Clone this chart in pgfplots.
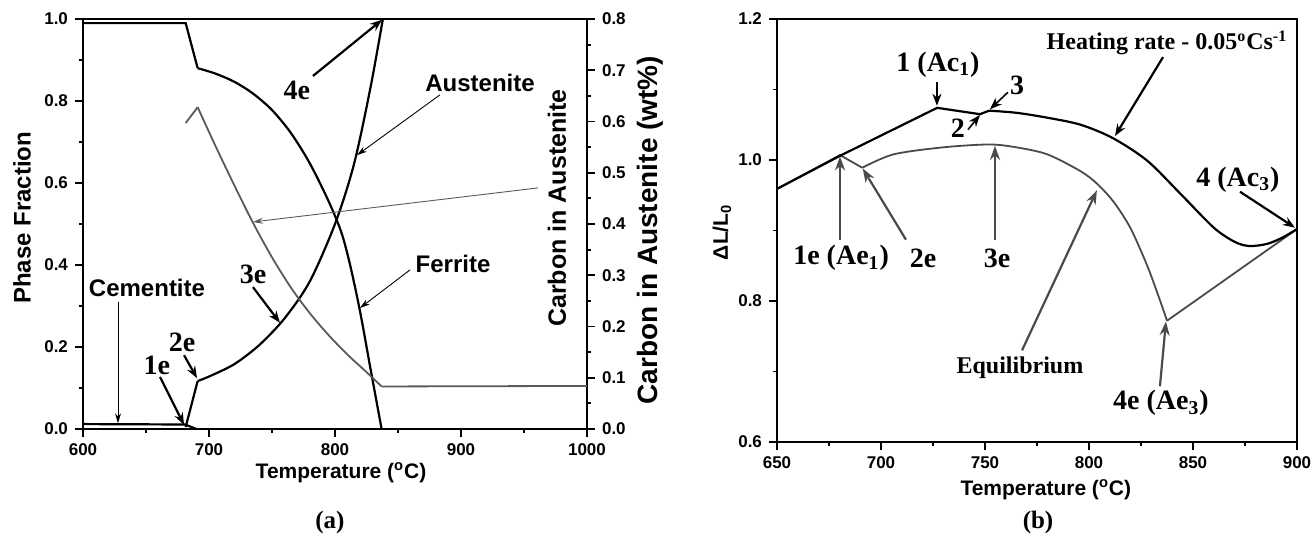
\documentclass[border=0pt]{standalone}
\usepackage{fontspec}
\setmainfont{Liberation Sans}
\newfontfamily\tms{Liberation Serif}
\usepackage{pgfplots}
\pgfplotsset{compat=1.18}
\usetikzlibrary{arrows.meta}
\definecolor{eqgray}{HTML}{4A4A4A}
\definecolor{cgray}{HTML}{5A5A5A}
\pgfplotsset{
  base/.style={scale only axis, clip=false,
    axis line style={line width=1pt,-},
    tick align=outside, major tick length=4pt, minor tick length=2pt,
    every tick/.style={line width=0.9pt, black},
    tick label style={font=\bfseries\fontsize{8.5}{10}\selectfont},
    /pgf/number format/assume math mode=true,
    /pgf/number format/1000 sep={},
    yticklabel style={/pgf/number format/.cd,fixed,fixed zerofill,precision=1},
  },
}
\tikzset{
  sanslab/.style={font=\bfseries\fontsize{12}{14}\selectfont},
  serlab/.style={font=\tms\bfseries\fontsize{14}{16}\selectfont},
  sersmall/.style={font=\tms\bfseries\fontsize{12}{14}\selectfont},
  barrow/.style={line width=1.1pt, -{Stealth[length=6pt,width=4.5pt]}},
  tarrow/.style={line width=0.45pt, -{Stealth[length=5pt,width=3pt]}},
  garrow/.style={eqgray, line width=1.1pt, -{Stealth[length=7pt,width=5pt]}},
  curve/.style={black, line width=1.1pt},
  gcurve/.style={eqgray, line width=0.9pt},
}
\begin{document}
\begin{tikzpicture}
\path (0,0) rectangle (657pt,268.5pt);
% ---------------- panel (a) ----------------
\begin{axis}[base, at={(41.5pt,54pt)}, anchor=south west,
  width=252pt, height=205pt,
  xmin=600, xmax=1000, ymin=0, ymax=1,
  xtick={600,700,800,900,1000}, minor x tick num=1,
  ytick={0,0.2,0.4,0.6,0.8,1.0}, minor y tick num=1,
  xtick pos=left, ytick pos=left]
% ferrite
\addplot[curve] coordinates {(600,0.99)(681.5,0.99)(691,0.88)};
\addplot[curve, smooth, tension=0.5] coordinates {(691,0.88)(705,0.867)(720,0.847)(735,0.818)(750,0.778)(765,0.722)(780,0.648)(795,0.555)(805,0.48)(812,0.40)(820,0.285)(828,0.15)(837,0.0)};
\addplot[curve] coordinates {(837,0)(1000,0)};
% austenite
\addplot[curve] coordinates {(681.5,0.005)(691,0.117)};
\addplot[curve, smooth, tension=0.5] coordinates {(691,0.117)(700,0.128)(720,0.158)(740,0.205)(760,0.27)(780,0.36)(800,0.50)(815,0.645)(828,0.83)(838,1.0)};
\addplot[curve] coordinates {(838,1.0)(1000,1.0)};
% cementite
\addplot[curve] coordinates {(600,0.012)(681,0.011)(690,0.0)};
% labels
\node[rotate=90, font=\bfseries\fontsize{12}{14}\selectfont] at (rel axis cs:-0.121,0.515) {Phase Fraction};
\node[font=\bfseries\fontsize{10.5}{12}\selectfont] at (rel axis cs:0.512,-0.107) {Temperature (\textsuperscript{o}C)};
\node[font=\tms\bfseries\fontsize{12.5}{14}\selectfont] at (rel axis cs:0.49,-0.227) {(a)};
\node[rotate=90, font=\bfseries\fontsize{14}{16}\selectfont] at (rel axis cs:1.125,0.485) {Carbon in Austenite (wt\%)};
% annotations
\node[sanslab] at (axis cs:650.8,0.344) {Cementite};
\draw[tarrow] (axis cs:627.8,0.31) -- (axis cs:627.8,0.014);
\node[serlab] at (axis cs:658.7,0.156) {1e};
\draw[barrow] (axis cs:661.1,0.127) -- (axis cs:680.2,0.010);
\node[serlab] at (axis cs:678.6,0.212) {2e};
\draw[barrow] (axis cs:680.2,0.180) -- (axis cs:690.5,0.124);
\node[serlab] at (axis cs:734.9,0.376) {3e};
\draw[barrow] (axis cs:734.9,0.346) -- (axis cs:756.3,0.259);
\node[serlab] at (axis cs:769.8,0.827) {4e};
\draw[barrow] (axis cs:782.5,0.861) -- (axis cs:837.3,0.998);
\node[sanslab] at (axis cs:915.1,0.844) {Austenite};
\draw[tarrow] (axis cs:883.3,0.815) -- (axis cs:817.5,0.668);
\node[sanslab] at (axis cs:893.7,0.402) {Ferrite};
\draw[tarrow] (axis cs:859.5,0.388) -- (axis cs:819.8,0.295);
\draw[tarrow, cgray] (axis cs:961.1,0.588) -- (axis cs:734.9,0.505);
\node[rotate=90, font=\bfseries\fontsize{12.5}{14}\selectfont] at (axis cs:976.2,0.539) {Carbon in Austenite};
\end{axis}
\begin{axis}[base, at={(41.5pt,54pt)}, anchor=south west,
  width=252pt, height=205pt,
  xmin=600, xmax=1000, ymin=0, ymax=0.8,
  axis y line*=right, axis x line=none,
  ytick={0,0.1,0.2,0.3,0.4,0.5,0.6,0.7,0.8}, minor y tick num=1,
  ytick pos=right]
\addplot[cgray, line width=0.9pt] coordinates {(681.5,0.597)(691,0.628)};
\addplot[cgray, line width=0.9pt, smooth, tension=0.5] coordinates {(691,0.628)(705,0.553)(720,0.476)(735,0.402)(750,0.335)(765,0.276)(780,0.226)(795,0.183)(810,0.145)(825,0.111)(837,0.083)};
\addplot[cgray, line width=0.9pt] coordinates {(837,0.083)(1000,0.084)};
\end{axis}
% ---------------- panel (b) ----------------
\begin{axis}[base, at={(388.5pt,47.5pt)}, anchor=south west,
  width=260pt, height=211.5pt,
  xmin=650, xmax=900, ymin=0.6, ymax=1.2,
  xtick={650,700,750,800,850,900}, minor x tick num=1,
  ytick={0.6,0.8,1.0,1.2}, minor y tick num=1,
  xtick pos=left, ytick pos=left]
% equilibrium
\addplot[gcurve] coordinates {(650,0.959)(680.3,1.007)(691,0.989)};
\addplot[gcurve, smooth, tension=0.5] coordinates {(691,0.989)(706,1.008)(730,1.018)(752,1.022)(765,1.018)(780,1.008)(796,0.984)(804,0.966)(812,0.940)(820,0.903)(828,0.850)(834,0.802)(837.5,0.772)};
\addplot[gcurve] coordinates {(837.5,0.772)(900,0.902)};
% heating
\addplot[curve] coordinates {(650,0.959)(680.3,1.006)(727,1.074)(747.6,1.065)(752,1.070)};
\addplot[curve, smooth, tension=0.5] coordinates {(752,1.070)(765,1.067)(780,1.060)(796,1.050)(811.5,1.031)(828,0.999)(844,0.952)(860,0.904)(870,0.884)(877,0.878)(885.6,0.881)(893,0.890)(900,0.902)};
% labels
\node[rotate=90, font=\bfseries\fontsize{10.5}{12}\selectfont] at (rel axis cs:-0.106,0.496) {ΔL/L\textsubscript{0}};
\node[font=\bfseries\fontsize{10.5}{12}\selectfont] at (rel axis cs:0.517,-0.113) {Temperature (\textsuperscript{o}C)};
\node[font=\tms\bfseries\fontsize{12.5}{14}\selectfont] at (rel axis cs:0.502,-0.191) {(b)};
% annotations
\node[serlab] at (axis cs:727.4,1.135) {1 (Ac\textsubscript{1})};
\draw[barrow] (axis cs:726.9,1.111) -- (axis cs:726.9,1.077);
\node[serlab] at (axis cs:737,1.045) {2};
\draw[barrow, line width=0.8pt] (axis cs:741.8,1.043) -- (axis cs:747.6,1.064);
\node[serlab] at (axis cs:765.4,1.106) {3};
\draw[barrow, line width=0.8pt] (axis cs:761,1.096) -- (axis cs:752.4,1.072);
\node[sersmall] at (axis cs:837.5,1.166) {Heating rate - 0.05\textsuperscript{o}Cs\textsuperscript{-1}};
\draw[barrow] (axis cs:835.6,1.146) -- (axis cs:812.5,1.034);
\node[serlab] at (axis cs:871.6,0.972) {4 (Ac\textsubscript{3})};
\draw[barrow] (axis cs:872.6,0.955) -- (axis cs:899,0.904);
\node[serlab] at (axis cs:680.8,0.861) {1e (Ae\textsubscript{1})};
\draw[garrow] (axis cs:680.3,0.887) -- (axis cs:680.3,1.005);
\node[serlab] at (axis cs:720.2,0.861) {2e};
\draw[garrow] (axis cs:712,0.887) -- (axis cs:691.2,0.988);
\node[serlab] at (axis cs:755.8,0.861) {3e};
\draw[garrow] (axis cs:754.8,0.887) -- (axis cs:754.8,1.020);
\node[sersmall] at (axis cs:766.8,0.706) {Equilibrium};
\draw[garrow] (axis cs:767.8,0.730) -- (axis cs:803.8,0.957);
\node[serlab] at (axis cs:834.6,0.655) {4e (Ae\textsubscript{3})};
\draw[garrow] (axis cs:834.1,0.679) -- (axis cs:837,0.771);
\end{axis}
\pgfresetboundingbox
\useasboundingbox (0,0) rectangle (657pt,268.5pt);
\end{tikzpicture}
\end{document}
